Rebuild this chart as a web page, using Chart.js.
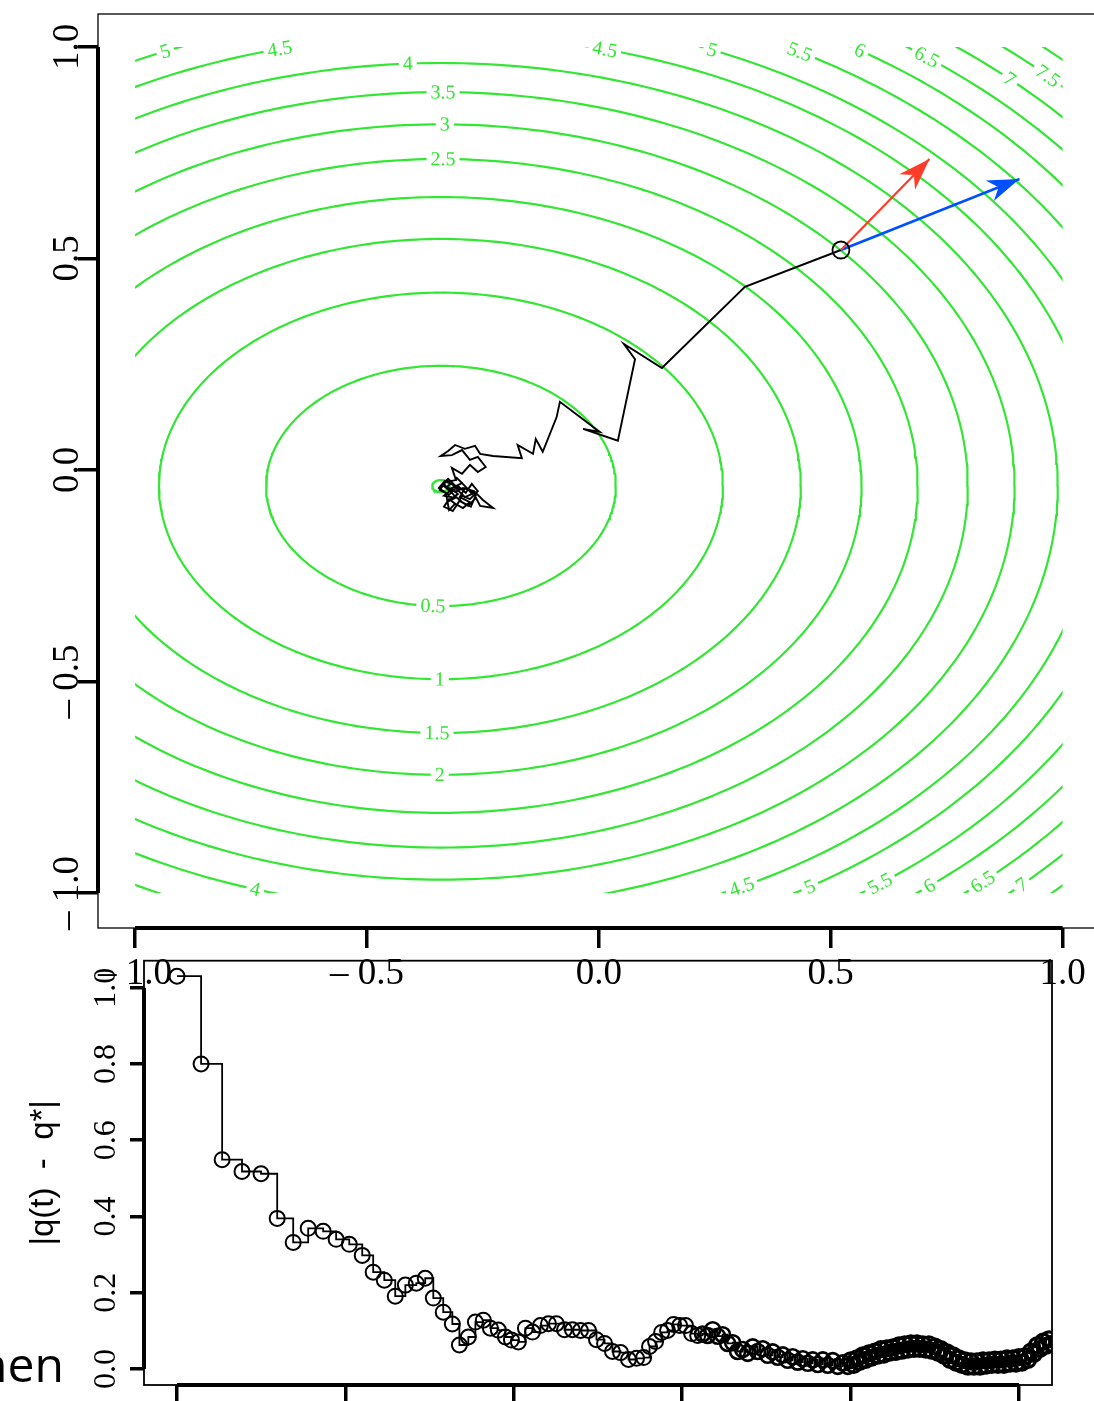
<!DOCTYPE html>
<html>
<head>
<meta charset="utf-8">
<script src="https://cdn.jsdelivr.net/npm/chart.js@4.4.0/dist/chart.umd.min.js"></script>
<style>
html, body { margin: 0; padding: 0; background: #fff; overflow: hidden; }
#wrap { position: relative; width: 1094px; height: 1401px; overflow: hidden; }
#top { position: absolute; left: 0; top: 0; }
#bottom { position: absolute; left: 0; top: 950px; }
</style>
</head>
<body>
<div id="wrap">
  <canvas id="top" width="1110" height="1000"></canvas>
  <canvas id="bottom" width="1094" height="500"></canvas>
</div>
<script>
// ---- top panel: contour levels (ellipses around the minimum) ----
const contourCenter = [-0.3405, -0.0378]
const contourLevels = [0, 0.5, 1, 1.5, 2, 2.5, 3, 3.5, 4, 4.5, 5, 5.5, 6, 6.5, 7, 7.5, 8]
const contourSemiX = [0.019, 0.377, 0.608, 0.776, 0.907, 1.028, 1.136, 1.237, 1.330, 1.416, 1.489, 1.567, 1.640, 1.707, 1.772, 1.836, 1.894]
const contourSemiY = [0.014, 0.284, 0.457, 0.584, 0.683, 0.773, 0.855, 0.931, 1.000, 1.066, 1.121, 1.180, 1.234, 1.284, 1.333, 1.382, 1.426]

// contour labels: level, x position, upper (1) or lower (-1) half
const labelLevels = [5, 4.5, 4, 3.5, 3, 2.5, 4.5, 5, 5.5, 6, 6.5, 7, 7.5, 0.5, 1, 1.5, 2, 4, 4.5, 5, 5.5, 6, 6.5, 7]
const labelX = [-0.935, -0.688, -0.412, -0.336, -0.332, -0.336, 0.013, 0.244, 0.433, 0.563, 0.707, 0.886, 0.968,
                -0.358, -0.343, -0.349, -0.343, -0.741, 0.308, 0.455, 0.606, 0.713, 0.828, 0.912]
const labelSide = [1, 1, 1, 1, 1, 1, 1, 1, 1, 1, 1, 1, 1, -1, -1, -1, -1, -1, -1, -1, -1, -1, -1, -1]

// trajectory q(t)
const pathX = [0.522, 0.315, 0.136, 0.054, 0.078, 0.041, -0.034, 0.002, -0.084, -0.091, -0.121, -0.136, -0.142, -0.175, -0.166,
  -0.228, -0.256, -0.267, -0.289, -0.310, -0.325, -0.341, -0.317, -0.295, -0.278, -0.261, -0.244, -0.261, -0.278, -0.295,
  -0.317, -0.308, -0.330, -0.343, -0.323, -0.304, -0.287, -0.274, -0.261, -0.278, -0.295, -0.306, -0.323, -0.334, -0.315,
  -0.300, -0.282, -0.265, -0.256, -0.228, -0.250, -0.269, -0.293, -0.310, -0.328, -0.317, -0.300,
  -0.325, -0.338, -0.321, -0.334, -0.310, -0.328, -0.304, -0.317, -0.295, -0.308, -0.287, -0.300, -0.278, -0.293, -0.310,
  -0.323, -0.330, -0.345, -0.332, -0.315, -0.302, -0.289, -0.274, -0.282, -0.265, -0.276, -0.295, -0.313, -0.325, -0.334]
const pathY = [0.520, 0.433, 0.241, 0.298, 0.262, 0.069, 0.097, 0.090, 0.161, 0.125, 0.043, 0.073, 0.038, 0.059, 0.028,
  0.033, 0.038, 0.057, 0.050, 0.059, 0.045, 0.033, 0.035, 0.047, 0.024, 0.031, 0.007, -0.005, 0.012, -0.009,
  0.005, -0.024, -0.028, -0.047, -0.059, -0.038, -0.054, -0.033, -0.050, -0.069, -0.061, -0.083, -0.069, -0.087, -0.097,
  -0.073, -0.085, -0.066, -0.085, -0.090, -0.071, -0.050, -0.043, -0.052, -0.040, -0.031, -0.047,
  -0.021, -0.035, -0.050, -0.061, -0.066, -0.076, -0.057, -0.043, -0.031, -0.017, -0.040, -0.064, -0.076, -0.090, -0.080,
  -0.095, -0.054, -0.043, -0.026, -0.035, -0.050, -0.064, -0.057, -0.045, -0.059, -0.087, -0.076, -0.059, -0.045, -0.033]

// the two arrows from the start point
const arrowStart = [0.522, 0.520]
const arrowTipX = [0.713, 0.907]
const arrowTipY = [0.735, 0.688]
const arrowColors = ['#ff3b2a', '#0050ff']

const topTicks = [-1, -0.5, 0, 0.5, 1]
const topTickLabels = ['\u2013 1.0', '\u2013 0.5', '0.0', '0.5', '1.0']

// ---- bottom panel: |q(t) - q*| ----
const tValues = [0, 0.143, 0.268, 0.386, 0.499, 0.595, 0.690, 0.779, 0.868, 0.945, 1.023, 1.100, 1.165, 1.231, 1.296,
  1.356, 1.421, 1.474, 1.522, 1.581, 1.635, 1.677, 1.730, 1.772, 1.819, 1.861, 1.908, 1.950, 1.986, 2.027, 2.069, 2.111,
  2.158, 2.206, 2.253, 2.301, 2.348, 2.396, 2.444, 2.491, 2.539, 2.586, 2.634, 2.681, 2.729, 2.771, 2.806, 2.842, 2.878,
  2.913, 2.949, 2.985, 3.020, 3.056, 3.092, 3.121, 3.151, 3.181, 3.210, 3.240, 3.270, 3.300, 3.329, 3.359, 3.389, 3.419,
  3.448, 3.478, 3.508, 3.537, 3.567, 3.597, 3.627, 3.656, 3.686, 3.716, 3.746, 3.775, 3.805, 3.835, 3.864, 3.894, 3.924,
  3.954, 3.983, 4.001, 4.019, 4.037, 4.055, 4.073, 4.090, 4.108, 4.126, 4.144, 4.162, 4.180, 4.197, 4.215, 4.233, 4.251,
  4.269, 4.287, 4.304, 4.322, 4.340, 4.358, 4.376, 4.394, 4.411, 4.429, 4.447, 4.465, 4.483, 4.501, 4.518, 4.536, 4.554,
  4.572, 4.590, 4.608, 4.625, 4.643, 4.661, 4.679, 4.697, 4.715, 4.732, 4.750, 4.768, 4.786, 4.804, 4.822, 4.839, 4.857,
  4.875, 4.893, 4.911, 4.929, 4.946, 4.964, 4.982, 5.000, 5.018, 5.036, 5.054, 5.071, 5.089, 5.107, 5.125, 5.143, 5.161,
  5.178, 5.196]
const qValues = [1.030, 0.800, 0.549, 0.518, 0.512, 0.395, 0.332, 0.369, 0.361, 0.340, 0.327, 0.298, 0.254, 0.233, 0.191,
  0.220, 0.225, 0.238, 0.186, 0.149, 0.118, 0.063, 0.084, 0.123, 0.128, 0.107, 0.102, 0.084, 0.076, 0.071, 0.107, 0.097,
  0.114, 0.119, 0.119, 0.103, 0.103, 0.101, 0.101, 0.077, 0.067, 0.046, 0.043, 0.025, 0.028, 0.030, 0.059, 0.072, 0.096,
  0.101, 0.117, 0.114, 0.114, 0.093, 0.088, 0.092, 0.088, 0.103, 0.086, 0.090, 0.067, 0.069, 0.046, 0.051, 0.041, 0.058,
  0.046, 0.053, 0.036, 0.045, 0.031, 0.037, 0.023, 0.032, 0.018, 0.027, 0.015, 0.024, 0.012, 0.024, 0.010, 0.022, 0.007,
  0.016, 0.007, 0.023, 0.011, 0.028, 0.019, 0.036, 0.024, 0.041, 0.030, 0.046, 0.035, 0.052, 0.038, 0.054, 0.043, 0.057,
  0.045, 0.062, 0.048, 0.065, 0.051, 0.067, 0.053, 0.067, 0.053, 0.065, 0.051, 0.065, 0.048, 0.059, 0.043, 0.052, 0.035,
  0.044, 0.024, 0.036, 0.017, 0.028, 0.011, 0.023, 0.006, 0.020, 0.006, 0.020, 0.006, 0.023, 0.009, 0.023, 0.011, 0.025,
  0.011, 0.025, 0.011, 0.028, 0.014, 0.028, 0.014, 0.031, 0.017, 0.033, 0.024, 0.046, 0.040, 0.062, 0.053, 0.072, 0.061,
  0.078, 0.066]
const bottomXTicks = [0, 1, 2, 3, 4, 5]
const bottomYTicks = [0, 0.2, 0.4, 0.6, 0.8, 1.0]

const green = '#33e633'
const serif = '"Liberation Serif", "Times New Roman", serif'

// R-like box and axis lines
const rFrame = {
  id: 'rFrame',
  afterDraw(chart, args, opts) {
    const {ctx, chartArea: a, scales: {x, y}} = chart
    ctx.save()
    ctx.strokeStyle = '#000'
    ctx.lineWidth = opts.boxWidth
    ctx.strokeRect(a.left, a.top, a.right - a.left, a.bottom - a.top)
    ctx.lineWidth = opts.axisWidth
    ctx.beginPath()
    ctx.moveTo(a.left, y.getPixelForValue(opts.yRange[0]))
    ctx.lineTo(a.left, y.getPixelForValue(opts.yRange[1]))
    ctx.moveTo(x.getPixelForValue(opts.xRange[0]), a.bottom)
    ctx.lineTo(x.getPixelForValue(opts.xRange[1]), a.bottom)
    ctx.stroke()
    if (opts.extraText) {
      const t = opts.extraText
      ctx.fillStyle = '#000'
      ctx.font = t.font
      ctx.textBaseline = 'alphabetic'
      ctx.fillText(t.text, t.x, t.y)
    }
    ctx.restore()
  }
}

// contours clipped to the grid square, labels and arrow heads
const contourDecor = {
  id: 'contourDecor',
  beforeDatasetDraw(chart, args) {
    const ds = chart.data.datasets[args.index]
    if (!ds.contour) return
    const {ctx, scales: {x, y}} = chart
    const l = x.getPixelForValue(-1), r = x.getPixelForValue(1)
    const t = y.getPixelForValue(1), b = y.getPixelForValue(-1)
    ctx.save()
    ctx.beginPath()
    ctx.rect(l, t, r - l, b - t)
    ctx.clip()
  },
  afterDatasetDraw(chart, args) {
    if (chart.data.datasets[args.index].contour) chart.ctx.restore()
  },
  afterDatasetsDraw(chart) {
    const {ctx, scales: {x, y}} = chart
    const kx = x.getPixelForValue(1) - x.getPixelForValue(0)
    const ky = y.getPixelForValue(1) - y.getPixelForValue(0)
    ctx.save()
    ctx.font = '20px ' + serif
    ctx.textAlign = 'center'
    ctx.textBaseline = 'middle'
    labelLevels.forEach((lev, i) => {
      const k = contourLevels.indexOf(lev)
      const a = contourSemiX[k], b = contourSemiY[k]
      const c = (labelX[i] - contourCenter[0]) / a
      const s = labelSide[i] * Math.sqrt(Math.max(0, 1 - c * c))
      const px = x.getPixelForValue(labelX[i])
      const py = y.getPixelForValue(contourCenter[1] + b * s)
      let ang = Math.atan2(b * c * ky, -a * s * kx)
      if (ang > Math.PI / 2) ang -= Math.PI
      if (ang < -Math.PI / 2) ang += Math.PI
      const txt = String(lev)
      const w = ctx.measureText(txt).width
      ctx.save()
      ctx.translate(px, py)
      ctx.rotate(ang)
      ctx.fillStyle = '#fff'
      ctx.fillRect(-w / 2 - 4, -4, w + 8, 8)
      ctx.fillStyle = green
      ctx.fillText(txt, 0, 1)
      ctx.restore()
    })
    // arrow heads
    const sx = x.getPixelForValue(arrowStart[0]), sy = y.getPixelForValue(arrowStart[1])
    arrowTipX.forEach((tx0, i) => {
      const tx = x.getPixelForValue(tx0), ty = y.getPixelForValue(arrowTipY[i])
      const len = Math.hypot(tx - sx, ty - sy)
      const ux = (tx - sx) / len, uy = (ty - sy) / len
      const nx = -uy, ny = ux
      const L = 32, W = 11
      ctx.fillStyle = arrowColors[i]
      ctx.beginPath()
      ctx.moveTo(tx, ty)
      ctx.lineTo(tx - L * ux + W * nx, ty - L * uy + W * ny)
      ctx.lineTo(tx - 0.7 * L * ux, ty - 0.7 * L * uy)
      ctx.lineTo(tx - L * ux - W * nx, ty - L * uy - W * ny)
      ctx.closePath()
      ctx.fill()
    })
    ctx.restore()
  }
}

// ---- build top chart ----
const contourSets = contourLevels.map((lev, k) => {
  const pts = []
  for (let j = 0; j <= 360; j++) {
    const th = j * Math.PI / 180
    pts.push({x: contourCenter[0] + contourSemiX[k] * Math.cos(th), y: contourCenter[1] + contourSemiY[k] * Math.sin(th)})
  }
  return {data: pts, showLine: true, pointRadius: 0, borderColor: green, borderWidth: 2.2, contour: true}
})

const topSets = [
  {data: [{x: arrowStart[0], y: arrowStart[1]}], pointRadius: 8.5, pointBorderWidth: 1.8,
   pointBorderColor: '#000', pointBackgroundColor: 'rgba(0,0,0,0)'},
  ...arrowTipX.map((tx, i) => ({
    data: [{x: arrowStart[0], y: arrowStart[1]}, {x: tx, y: arrowTipY[i]}],
    showLine: true, pointRadius: 0, borderColor: arrowColors[i], borderWidth: i === 0 ? 2.2 : 2.6
  })),
  {data: pathX.map((v, i) => ({x: v, y: pathY[i]})), showLine: true, pointRadius: 0, borderColor: '#000', borderWidth: 1.9},
  ...contourSets
]

new Chart(document.getElementById('top'), {
  type: 'scatter',
  data: {datasets: topSets},
  plugins: [contourDecor, rFrame],
  options: {
    responsive: false,
    animation: false,
    devicePixelRatio: 1,
    events: [],
    layout: {padding: {left: 0, top: 14, right: 10, bottom: 0}},
    plugins: {
      legend: {display: false},
      tooltip: {enabled: false},
      rFrame: {boxWidth: 1.3, axisWidth: 4, xRange: [-1, 1], yRange: [-1, 1]}
    },
    scales: {
      x: {
        type: 'linear', min: -1.08, max: 1.08,
        afterBuildTicks: s => { s.ticks = topTicks.map(v => ({value: v})) },
        afterFit: s => { s.height = 72; s.paddingLeft = 0; s.paddingRight = 0 },
        border: {display: false},
        grid: {drawOnChartArea: false, drawTicks: true, tickLength: 20, lineWidth: 3.5, tickWidth: 3.5, color: '#000', tickColor: '#000'},
        ticks: {font: {family: serif, size: 37}, color: '#000', padding: 4, minRotation: 0, maxRotation: 0,
                autoSkip: false, callback: (v, i) => topTickLabels[i]}
      },
      y: {
        type: 'linear', min: -1.083, max: 1.078,
        afterBuildTicks: s => { s.ticks = topTicks.map(v => ({value: v})) },
        afterFit: s => { s.width = 98; s.paddingTop = 0; s.paddingBottom = 0 },
        border: {display: false},
        grid: {drawOnChartArea: false, drawTicks: true, tickLength: 20, lineWidth: 3.5, tickWidth: 3.5, color: '#000', tickColor: '#000'},
        ticks: {font: {family: serif, size: 37}, color: '#000', padding: -27, minRotation: 90, maxRotation: 90,
                crossAlign: 'center', autoSkip: false, callback: (v, i) => topTickLabels[i]}
      }
    }
  }
})

// ---- build bottom chart ----
new Chart(document.getElementById('bottom'), {
  type: 'line',
  data: {
    datasets: [{
      data: tValues.map((t, i) => ({x: t, y: qValues[i]})),
      stepped: true,
      borderColor: '#000',
      borderWidth: 1.8,
      pointRadius: 7.5,
      // rings drawn heavier where the points crowd together
      pointBorderWidth: c => (c.raw && c.raw.x > 4 ? 3.2 : c.raw && c.raw.x > 3.1 ? 2.6 : 2),
      pointBorderColor: '#000',
      pointBackgroundColor: 'rgba(0,0,0,0)',
      clip: 0
    }]
  },
  plugins: [rFrame],
  options: {
    responsive: false,
    animation: false,
    devicePixelRatio: 1,
    events: [],
    layout: {padding: {left: 0, top: 10, right: 42, bottom: 0}},
    plugins: {
      legend: {display: false},
      tooltip: {enabled: false},
      rFrame: {boxWidth: 1.8, axisWidth: 4, xRange: [0, 5], yRange: [0, 1],
               extraText: {text: 'hen', x: -22, y: 432, font: '48px "Open Sans", sans-serif'}}
    },
    scales: {
      x: {
        type: 'linear', min: -0.196, max: 5.196,
        afterBuildTicks: s => { s.ticks = bottomXTicks.map(v => ({value: v})) },
        afterFit: s => { s.height = 65; s.paddingLeft = 0; s.paddingRight = 0 },
        border: {display: false},
        grid: {drawOnChartArea: false, drawTicks: true, tickLength: 20, lineWidth: 3.5, tickWidth: 3.5, color: '#000', tickColor: '#000'},
        ticks: {display: false}
      },
      y: {
        type: 'linear', min: -0.0419, max: 1.0707,
        afterBuildTicks: s => { s.ticks = bottomYTicks.map(v => ({value: v})) },
        afterFit: s => { s.width = 144; s.paddingTop = 0; s.paddingBottom = 0 },
        border: {display: false},
        grid: {drawOnChartArea: false, drawTicks: true, tickLength: 14, lineWidth: 3.5, tickWidth: 3.5, color: '#000', tickColor: '#000'},
        ticks: {font: {family: serif, size: 32}, color: '#000', padding: 3, minRotation: 90, maxRotation: 90,
                crossAlign: 'center', autoSkip: false, callback: v => v.toFixed(1)},
        title: {display: true, text: '|q(t)  -  q*|', color: '#000',
                font: {family: '"Liberation Sans", Arial, sans-serif', size: 33}, padding: {top: 24}}
      }
    }
  }
})
</script>
</body>
</html>
